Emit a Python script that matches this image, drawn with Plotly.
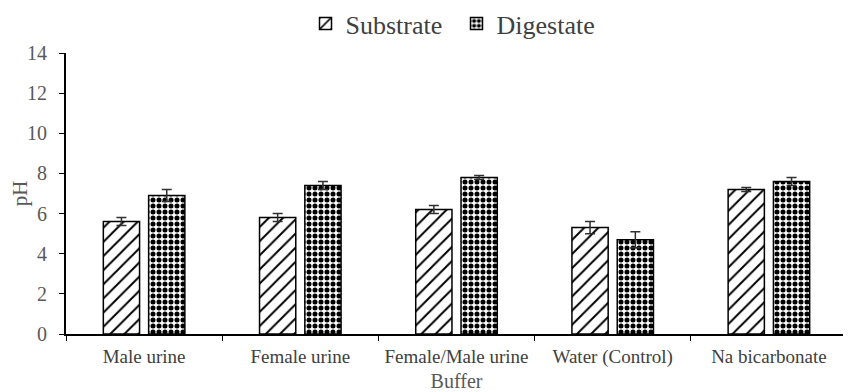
import plotly.graph_objects as go

categories = ["Male urine", "Female urine", "Female/Male urine", "Water (Control)", "Na bicarbonate"]
substrate = [5.6, 5.8, 6.2, 5.3, 7.2]
substrate_err = [0.2, 0.2, 0.2, 0.3, 0.1]
digestate = [6.9, 7.4, 7.8, 4.7, 7.6]
digestate_err = [0.3, 0.2, 0.1, 0.4, 0.2]

FF = "Liberation Serif"

fig = go.Figure()
fig.add_trace(go.Bar(
    name="Substrate", x=categories, y=substrate,
    error_y=dict(type="data", array=substrate_err, color="#303030", thickness=1.5, width=5),
    marker=dict(color="white", line=dict(color="black", width=1.5),
                pattern=dict(shape="/", fgcolor="black", bgcolor="white", size=10,
                             solidity=0.2, fgopacity=1)),
))
fig.add_trace(go.Bar(
    name="Digestate", x=categories, y=digestate,
    error_y=dict(type="data", array=digestate_err, color="#303030", thickness=1.5, width=5),
    marker=dict(color="white", line=dict(color="black", width=1.5),
                pattern=dict(shape=".", fgcolor="black", bgcolor="white", size=6,
                             solidity=0.55, fgopacity=1)),
))

# page body has an 8px margin, so the figure is sized/offset to compensate
fig.update_layout(
    width=843, height=384,
    margin=dict(l=58, r=4, t=45, b=58, autoexpand=False),
    paper_bgcolor="white", plot_bgcolor="white",
    barmode="group", bargap=0.42, bargroupgap=0.2,
    font=dict(family=FF, color="#595959", size=15),
    showlegend=True,
    legend=dict(orientation="h", x=0.5, xanchor="center",
                y=1.105, yanchor="middle", entrywidth=106,
                font=dict(family=FF, size=26, color="#404040"), itemwidth=30,
                bgcolor="rgba(0,0,0,0)"),
    xaxis=dict(showline=True, linecolor="black", linewidth=2, ticks="outside",
               tickson="boundaries", ticklen=5, tickcolor="black",
               ticklabelstandoff=4,
               tickfont=dict(family=FF, size=19, color="#404040"),
               title=dict(text="Buffer", font=dict(family=FF, size=20, color="#595959"), standoff=8),
               showgrid=False),
    yaxis=dict(range=[0, 14], dtick=2, showline=True, linecolor="black", linewidth=2,
               ticks="outside", ticklen=5, tickcolor="black",
               ticklabelstandoff=8,
               tickfont=dict(family=FF, size=20, color="#595959"),
               title=dict(text="pH", font=dict(family=FF, size=21, color="#595959"), standoff=10),
               showgrid=False, zeroline=False),
)

fig.write_html("out.html")
